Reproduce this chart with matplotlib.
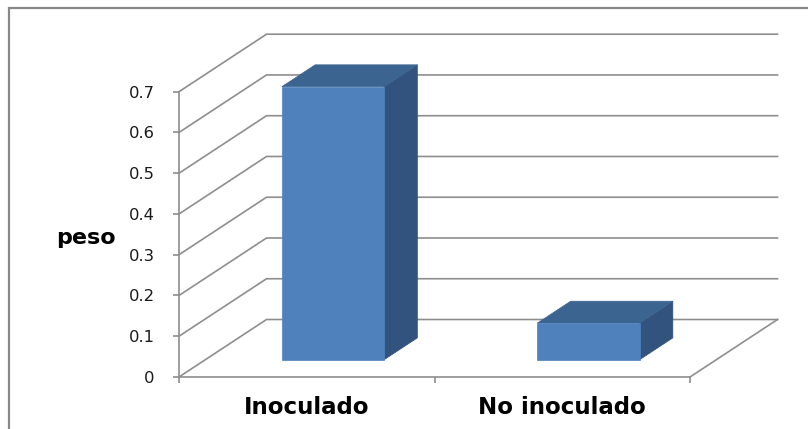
import matplotlib
matplotlib.use("Agg")
import matplotlib.pyplot as plt
from matplotlib.patches import Polygon, Rectangle

# Data
categories = ["Inoculado", "No inoculado"]
values = [0.67, 0.09]
y_ticks = [0, 0.1, 0.2, 0.3, 0.4, 0.5, 0.6, 0.7]
y_tick_labels = ["0", "0.1", "0.2", "0.3", "0.4", "0.5", "0.6", "0.7"]
y_label = "peso"

# Styling
GRID = "#8E8E8E"
FRONT = "#4F81BD"
TOP = "#3C6490"
SIDE = "#32537E"

W, H = 808, 429
fig = plt.figure(figsize=(W / 100, H / 100), dpi=100)
fig.patch.set_facecolor("white")

# outer chart frame
fig.add_artist(Rectangle((9 / W, -0.1), 1.2, 1 - 8 / H + 0.1,
                         transform=fig.transFigure, fill=False,
                         edgecolor="#888888", linewidth=1.6))

# front plane of the 3D plot area
left, right, bottom, top = 179, 690, 377, 91.7
ax = fig.add_axes([left / W, 1 - bottom / H, (right - left) / W, (bottom - top) / H])
ax.set_facecolor("none")
n = len(categories)
ax.set_xlim(0, n)
ax.set_ylim(0, 0.7)

# oblique depth offset, in data units
DX = 87.5 / ((right - left) / n)
DY = 57.5 / ((bottom - top) / 0.7)

# side wall / back wall gridlines
for v in y_ticks:
    ax.plot([0, DX, n + DX], [v, v + DY, v + DY], color=GRID, lw=1.2,
            clip_on=False, zorder=1, solid_joinstyle="miter")
# right edge of the floor
ax.plot([n, n + DX], [0, DY], color=GRID, lw=1.2, clip_on=False, zorder=1)

# 3D columns
half_w = 0.2
f_d, b_d = 0.30, 0.68
for i, v in enumerate(values):
    c = i + 0.5
    x0 = c - half_w + f_d * DX
    x1 = c + half_w + f_d * DX
    y0 = f_d * DY
    ox = (b_d - f_d) * DX
    oy = (b_d - f_d) * DY
    side = [(x1, y0), (x1 + ox, y0 + oy), (x1 + ox, y0 + oy + v), (x1, y0 + v)]
    topf = [(x0, y0 + v), (x1, y0 + v), (x1 + ox, y0 + oy + v), (x0 + ox, y0 + oy + v)]
    front = [(x0, y0), (x1, y0), (x1, y0 + v), (x0, y0 + v)]
    for pts, col in ((side, SIDE), (topf, TOP), (front, FRONT)):
        ax.add_patch(Polygon(pts, closed=True, facecolor=col, edgecolor=col,
                             lw=0.5, clip_on=False, zorder=3))

# axes lines and ticks
for s in ("top", "right"):
    ax.spines[s].set_visible(False)
for s in ("left", "bottom"):
    ax.spines[s].set_color(GRID)
    ax.spines[s].set_linewidth(1.2)
    ax.spines[s].set_zorder(2)

ax.set_yticks(y_ticks)
ax.set_yticklabels(y_tick_labels)
ax.tick_params(axis="y", direction="out", length=4.5, width=1.2, color=GRID,
               pad=13, labelsize=11.8, labelcolor="#1A1A1A")
for lab in ax.get_yticklabels():
    lab.set_family("DejaVu Sans")

ax.set_xticks([i + 0.5 for i in range(n)])
ax.set_xticklabels(categories)
ax.set_xticks(list(range(n + 1)), minor=True)
ax.tick_params(axis="x", which="major", length=0, pad=14, labelsize=16.5,
               labelcolor="black")
ax.tick_params(axis="x", which="minor", direction="out", length=4.5, width=1.2,
               color=GRID)
for lab in ax.get_xticklabels():
    lab.set_family("DejaVu Sans")
    lab.set_fontweight("bold")

fig.text(86 / W, 1 - 244 / H, y_label, ha="center", va="baseline",
         fontsize=16, fontweight="bold", family="DejaVu Sans", color="black")

fig.savefig("out.png", dpi=100, facecolor="white")
